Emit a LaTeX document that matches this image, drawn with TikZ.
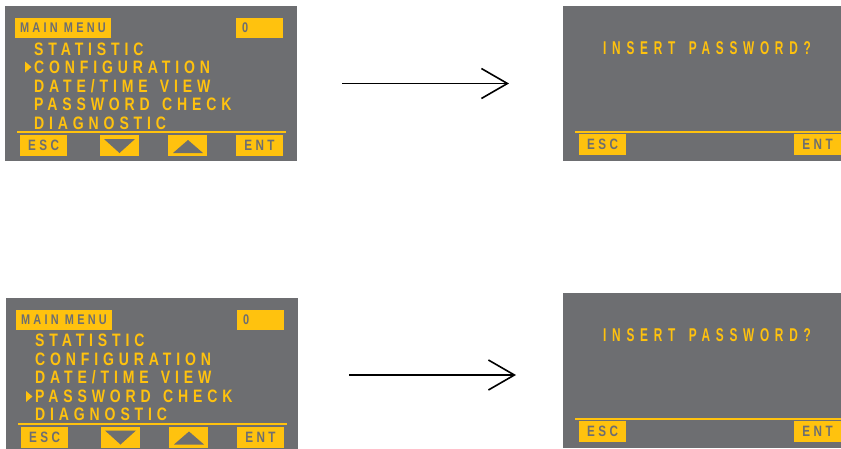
\documentclass[tikz,border=0pt]{standalone}
\usepackage{fontspec}
\usepackage{tikz}
\usetikzlibrary{arrows.meta}

\newfontfamily\lcdfont[FakeStretch=0.78,LetterSpace=27,WordSpace=1.4]{Liberation Sans Bold}
\newfontfamily\lcdsmall[FakeStretch=0.78,LetterSpace=23]{Liberation Sans Bold}
\newfontfamily\lcdnarrow[FakeStretch=0.64,LetterSpace=31,WordSpace=1.5]{Liberation Sans Bold}
\definecolor{lcdgray}{HTML}{6D6E71}
\definecolor{lcdyellow}{HTML}{FFC20E}

\tikzset{
  screen/.style={fill=lcdgray, inner sep=0pt, outer sep=0pt},
  keybox/.style={fill=lcdyellow, inner sep=0pt, outer sep=0pt, minimum height=21pt, minimum width=47pt,
    text=lcdgray, font=\lcdsmall\fontsize{15}{15}\selectfont},
  arrowkey/.style={keybox, minimum width=39pt},
  titlebox/.style={keybox, minimum width=96pt, minimum height=20pt, font=\lcdsmall\fontsize{14}{14}\selectfont},
  countbox/.style={keybox, minimum height=20pt, text width=35pt, align=left, font=\lcdsmall\fontsize{14}{14}\selectfont},
  menuline/.style={anchor=base west, inner sep=0pt, text=lcdyellow, font=\lcdfont\fontsize{18}{18}\selectfont},
  prompt/.style={menuline, font=\lcdnarrow\fontsize{18.5}{18.5}\selectfont},
  rule/.style={draw=lcdyellow, line width=2pt},
  flow/.style={line width=1.6pt, -{Straight Barb[length=26pt, width=30pt, line width=1.6pt]}},
}

\begin{document}
\begin{tikzpicture}[x=1pt, y=-1pt]
\useasboundingbox (0,0) rectangle (841,448);

% main menu, cursor on CONFIGURATION
\node[screen, minimum width=292pt, minimum height=155pt] (menuA) at (151,83.5) {};
\node[titlebox] (titleA) at (63,28) {MAIN MENU};
\node[countbox] (countA) at (259.5,28) {0};
\node[menuline] (statA) at (34,55) {STATISTIC};
\node[menuline] (confA) at (34,73.5) {CONFIGURATION};
\node[menuline] (dateA) at (34,92) {DATE/TIME VIEW};
\node[menuline] (passA) at (34,110.5) {PASSWORD CHECK};
\node[menuline] (diagA) at (34,129) {DIAGNOSTIC};
\fill[lcdyellow] (25,61.5) -- (31.5,67) -- (25,72.5) -- cycle;
\draw[rule] (17,132) -- (286,132);
\node[keybox] (escA) at (43.5,145.5) {ESC};
\node[arrowkey] (downA) at (119.5,145.5) {};
\node[arrowkey] (upA) at (187.5,145.5) {};
\node[keybox] (entA) at (259.5,145.5) {ENT};
\fill[lcdgray] (104,139) -- (135,139) -- (119.5,153) -- cycle;
\fill[lcdgray] (173,153) -- (203,153) -- (188,140) -- cycle;

% password prompt
\node[screen, minimum width=278pt, minimum height=155pt] (pwdA) at (702,83.5) {};
\node[prompt] (askA) at (603,54) {INSERT PASSWORD?};
\draw[rule] (575,132) -- (841,132);
\node[keybox] (escC) at (602.5,144.5) {ESC};
\node[keybox] (entC) at (817.5,144.5) {ENT};

\draw[flow] ([xshift=45pt]menuA.east) -- ([xshift=-54pt]pwdA.west);

% main menu, cursor on PASSWORD CHECK
\begin{scope}[shift={(1,291.5)}]
\node[screen, minimum width=292pt, minimum height=155pt] (menuB) at (151,83.5) {};
\node[titlebox] (titleB) at (63,28) {MAIN MENU};
\node[countbox] (countB) at (259.5,28) {0};
\node[menuline] (statB) at (34,55) {STATISTIC};
\node[menuline] (confB) at (34,73.5) {CONFIGURATION};
\node[menuline] (dateB) at (34,92) {DATE/TIME VIEW};
\node[menuline] (passB) at (34,110.5) {PASSWORD CHECK};
\node[menuline] (diagB) at (34,129) {DIAGNOSTIC};
\fill[lcdyellow] (25,99.5) -- (31.5,105) -- (25,110.5) -- cycle;
\draw[rule] (17,132) -- (286,132);
\node[keybox] (escB) at (43.5,145.5) {ESC};
\node[arrowkey] (downB) at (119.5,145.5) {};
\node[arrowkey] (upB) at (187.5,145.5) {};
\node[keybox] (entB) at (259.5,145.5) {ENT};
\fill[lcdgray] (104,139) -- (135,139) -- (119.5,153) -- cycle;
\fill[lcdgray] (173,153) -- (203,153) -- (188,140) -- cycle;
\end{scope}

% password prompt
\begin{scope}[shift={(0,287)}]
\node[screen, minimum width=278pt, minimum height=155pt] (pwdB) at (702,83.5) {};
\node[prompt] (askB) at (603,54) {INSERT PASSWORD?};
\draw[rule] (575,132) -- (841,132);
\node[keybox] (escD) at (602.5,144.5) {ESC};
\node[keybox] (entD) at (817.5,144.5) {ENT};
\end{scope}

\draw[flow] ([xshift=51pt]menuB.east) -- ([xshift=-47pt]menuB.east -| pwdB.west);
\end{tikzpicture}
\end{document}
